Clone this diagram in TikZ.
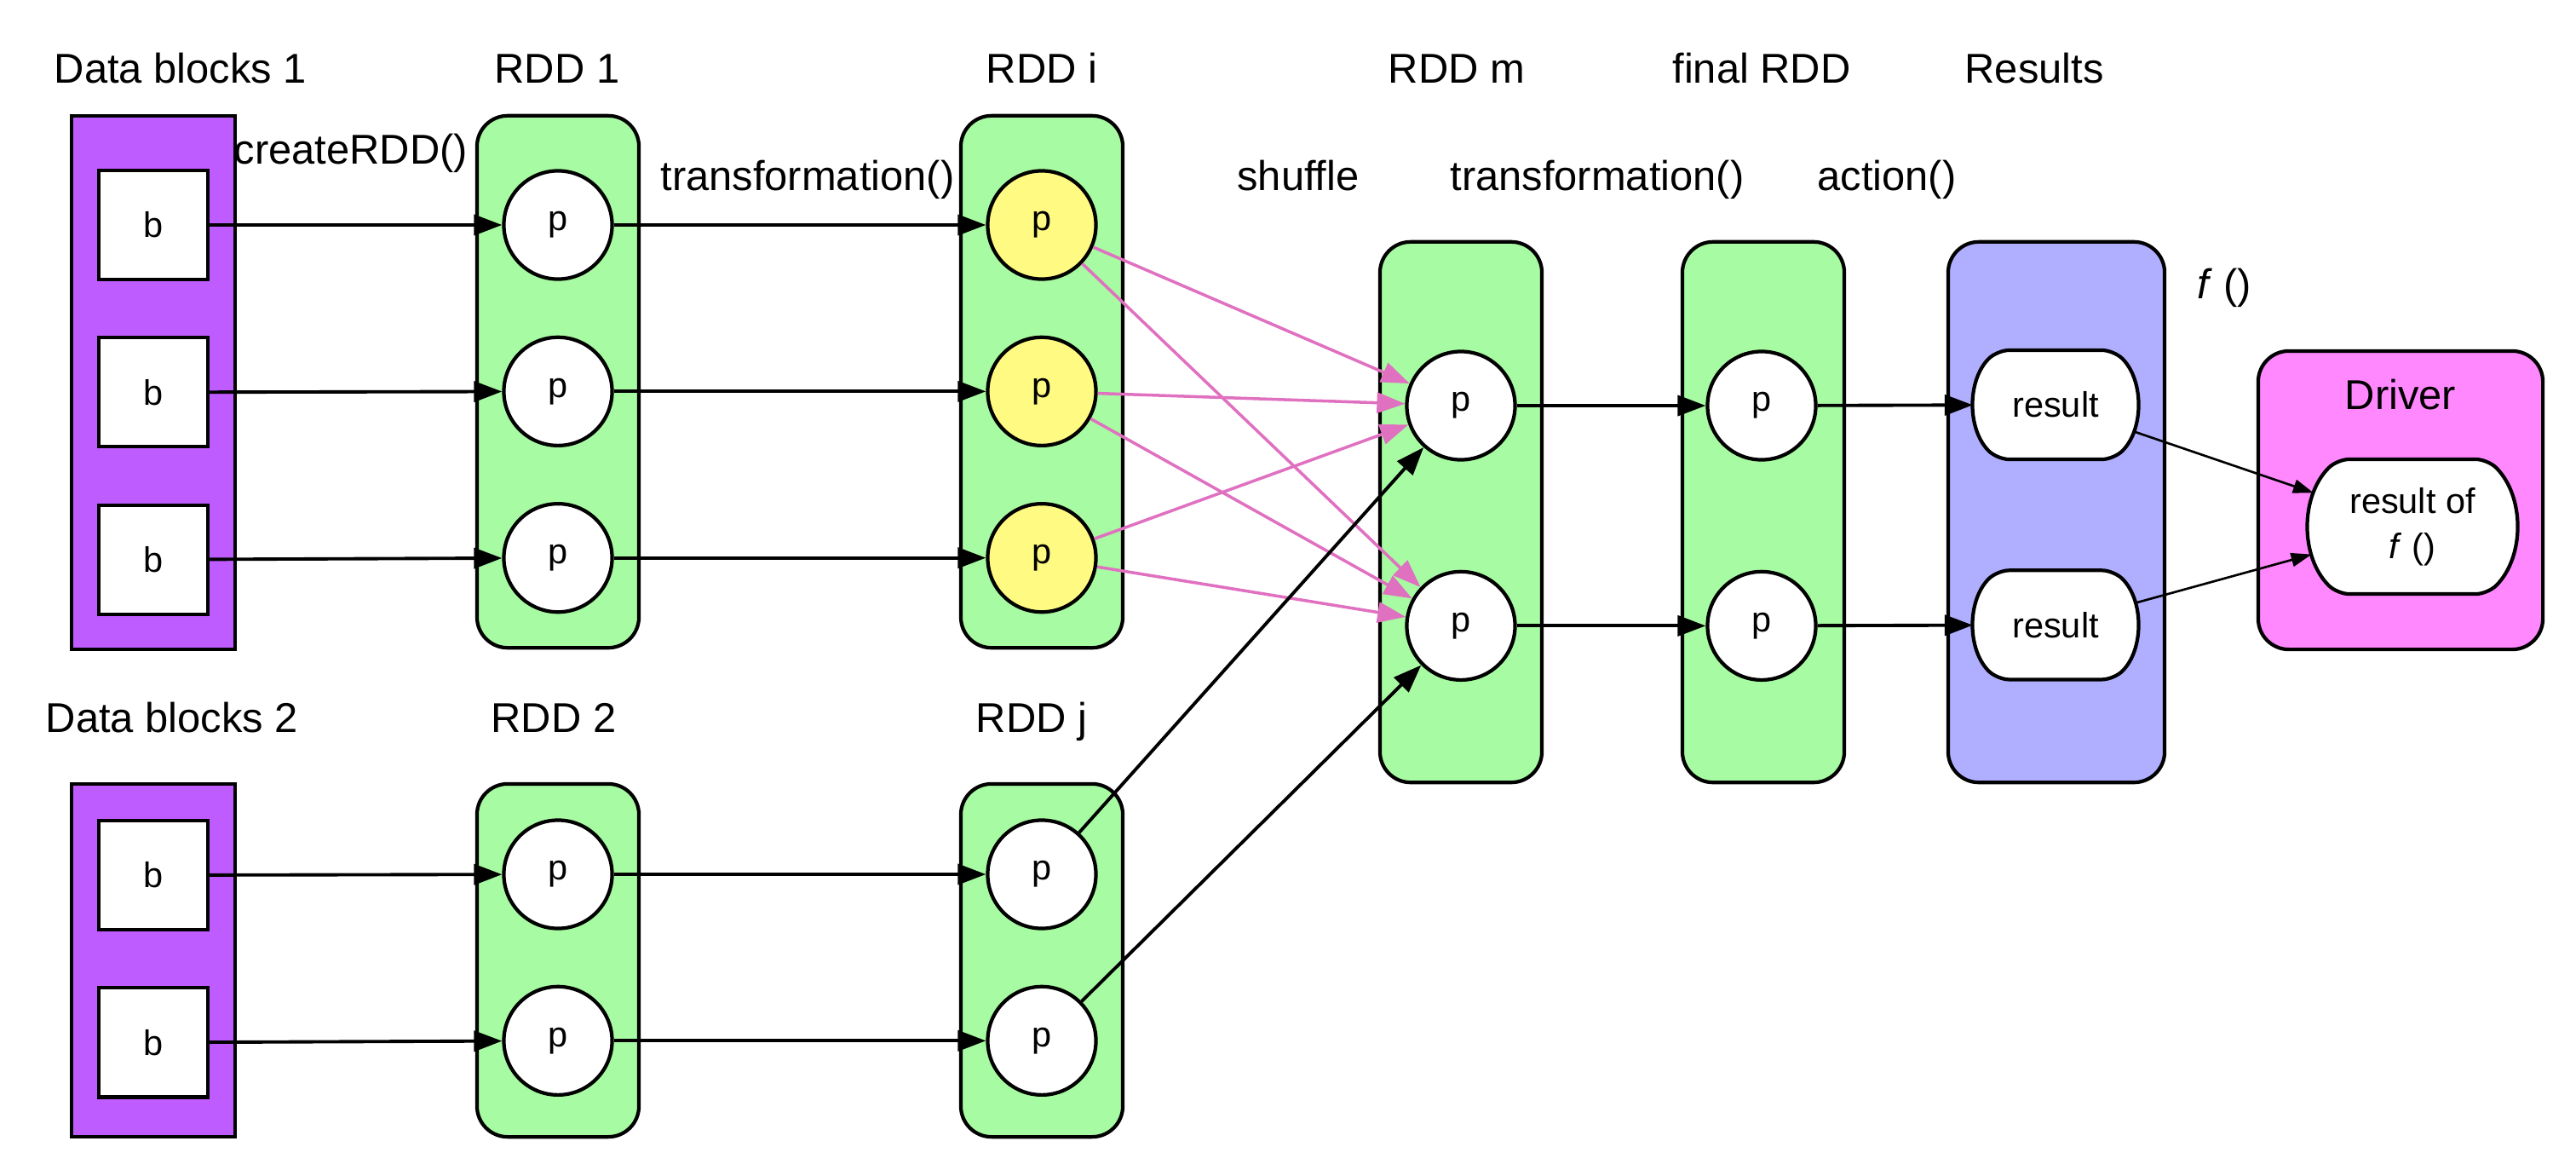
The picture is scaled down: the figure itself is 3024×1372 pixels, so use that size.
\documentclass[tikz,border=0pt]{standalone}
\usepackage{fontspec}
\setmainfont{Liberation Sans}
\usetikzlibrary{shapes.misc, positioning, arrows.meta}
\definecolor{blockPurple}{HTML}{BF5CFF}
\definecolor{rddGreen}{HTML}{A7FBA2}
\definecolor{partYellow}{HTML}{FFFA81}
\definecolor{resultBlue}{HTML}{B0AFFF}
\definecolor{driverPink}{HTML}{FF88FF}
\definecolor{shufflePink}{HTML}{E070C0}
\newcommand{\bigFont}{\fontsize{13.9}{16.5}\selectfont}
\newcommand{\smallFont}{\fontsize{11.8}{15}\selectfont}
\tikzstyle{blocks}=[rectangle, draw, line width=1.2pt, fill=blockPurple, minimum width=1.92cm]
\tikzstyle{rdd}=[rectangle, rounded corners=0.36cm, draw, line width=1.2pt, fill=rddGreen,
minimum width=1.9cm]
\tikzstyle{results}=[rdd, fill=resultBlue, minimum width=2.54cm]
\tikzstyle{driver}=[rdd, fill=driverPink, minimum width=3.34cm, minimum height=3.5cm]
\tikzstyle{block}=[rectangle, draw, line width=1.2pt, fill=white, minimum size=1.28cm,
inner sep=0pt, font=\smallFont]
\tikzstyle{part}=[circle, draw, line width=1.2pt, fill=white, minimum size=1.27cm, inner
sep=0pt, font=\smallFont]
\tikzstyle{partY}=[part, fill=partYellow]
\tikzstyle{result}=[rounded rectangle, rounded rectangle arc length=90, rounded corners=4pt,
draw, line width=1.2pt, fill=white, minimum width=1.9cm, minimum height=1.28cm, inner sep=0pt,
align=center, font=\smallFont]
\tikzstyle{title}=[anchor=base, inner sep=0pt, font=\bigFont]
\tikzstyle{arrow}=[-{Triangle[length=3.3mm, width=2.4mm]}, line width=1.1pt]
\tikzstyle{shuffleArrow}=[arrow, draw=shufflePink, line width=1pt]
\tikzstyle{thinArrow}=[-{Triangle[length=2.4mm, width=1.6mm]}, line width=0.75pt]

\begin{document}
\begin{tikzpicture}[x=0.01cm, y=-0.01cm, node distance=0.64cm]
  \useasboundingbox (0,0) rectangle (3024,1372);
  \node(blocks1) [blocks, minimum height=6.26cm] at (180,449) {};
  \node(rdd1) [rdd, minimum height=6.24cm] at (655,448) {};
  \node(rddI) [rdd, minimum height=6.24cm] at (1223,448) {};
  \node(rddM) [rdd, minimum height=6.34cm] at (1715,601) {};
  \node(rddFinal) [rdd, minimum height=6.34cm] at (2070,601) {};
  \node(results) [results, minimum height=6.34cm] at (2414,601) {};
  \node(driver) [driver] at (2818,587) {};
  \node(blocks2) [blocks, minimum height=4.14cm] at (180,1127) {};
  \node(rdd2) [rdd, minimum height=4.14cm] at (655,1127) {};
  \node(rddJ) [rdd, minimum height=4.14cm] at (1223,1127) {};

  \node(tBlocks1) [title] at (212,97) {Data blocks 1};
  \node(tRdd1) [title] at (654,97) {RDD 1};
  \node(tRddI) [title] at (1223,97) {RDD i};
  \node(tRddM) [title] at (1710,97) {RDD m};
  \node(tFinal) [title] at (2068,97) {final RDD};
  \node(tResults) [title] at (2388,97) {Results};
  \node(tBlocks2) [title] at (202,859) {Data blocks 2};
  \node(tRdd2) [title] at (650,859) {RDD 2};
  \node(tRddJ) [title] at (1211,859) {RDD j};
  \node(tCreate) [title] at (412,192) {createRDD()};
  \node(tTrans1) [title] at (948,223) {transformation()};
  \node(tShuffle) [title] at (1524,223) {shuffle};
  \node(tTrans2) [title] at (1875,223) {transformation()};
  \node(tAction) [title] at (2215,223) {action()};
  \node(tF) [title] at (2611,350) {\textit{f} ()};
  \node(tDriver) [title] at (2818,480) {Driver};

  \node(b11) [block] at (180,264) {b};
  \node(b12) [block, below=of b11] {b};
  \node(b13) [block, below=of b12] {b};
  \node(p11) [part] at (655,264) {p};
  \draw [arrow] (b11) -- (p11);
  \node(p12) [part, below=of p11] {p};
  \draw [arrow] (b12) -- (p12);
  \node(p13) [part, below=of p12] {p};
  \draw [arrow] (b13) -- (p13);
  \node(pI1) [partY] at (1223,264) {p};
  \draw [arrow] (p11) -- (pI1);
  \node(pI2) [partY, below=of pI1] {p};
  \draw [arrow] (p12) -- (pI2);
  \node(pI3) [partY, below=of pI2] {p};
  \draw [arrow] (p13) -- (pI3);

  \node(b21) [block] at (180,1027) {b};
  \node(b22) [block, below=of b21] {b};
  \node(p21) [part] at (655,1026) {p};
  \draw [arrow] (b21) -- (p21);
  \node(p22) [part, below=of p21] {p};
  \draw [arrow] (b22) -- (p22);
  \node(pJ1) [part] at (1223,1026) {p};
  \draw [arrow] (p21) -- (pJ1);
  \node(pJ2) [part, below=of pJ1] {p};
  \draw [arrow] (p22) -- (pJ2);

  \node(pM1) [part] at (1715,476) {p};
  \node(pM2) [part, below=1.27cm of pM1] {p};
  \foreach \src in {pI1, pI2, pI3} {
    \draw [shuffleArrow] (\src) -- (pM1);
    \draw [shuffleArrow] (\src) -- (pM2);
  }
  \draw [arrow] (pJ1) -- (pM1);
  \draw [arrow] (pJ2) -- (pM2);

  \node(pF1) [part] at (2068,476) {p};
  \draw [arrow] (pM1) -- (pF1);
  \node(pF2) [part, below=1.27cm of pF1] {p};
  \draw [arrow] (pM2) -- (pF2);
  \node(res1) [result] at (2413,475) {result};
  \draw [arrow] (pF1) -- (res1);
  \node(res2) [result, below=1.26cm of res1] {result};
  \draw [arrow] (pF2) -- (res2);
  \node(resF) [result, minimum width=2.42cm, minimum height=1.58cm] at (2832,618)
  {result of\\\textit{f} ()};
  \draw [thinArrow] (res1) -- (resF);
  \draw [thinArrow] (res2) -- (resF);
\end{tikzpicture}
\end{document}
